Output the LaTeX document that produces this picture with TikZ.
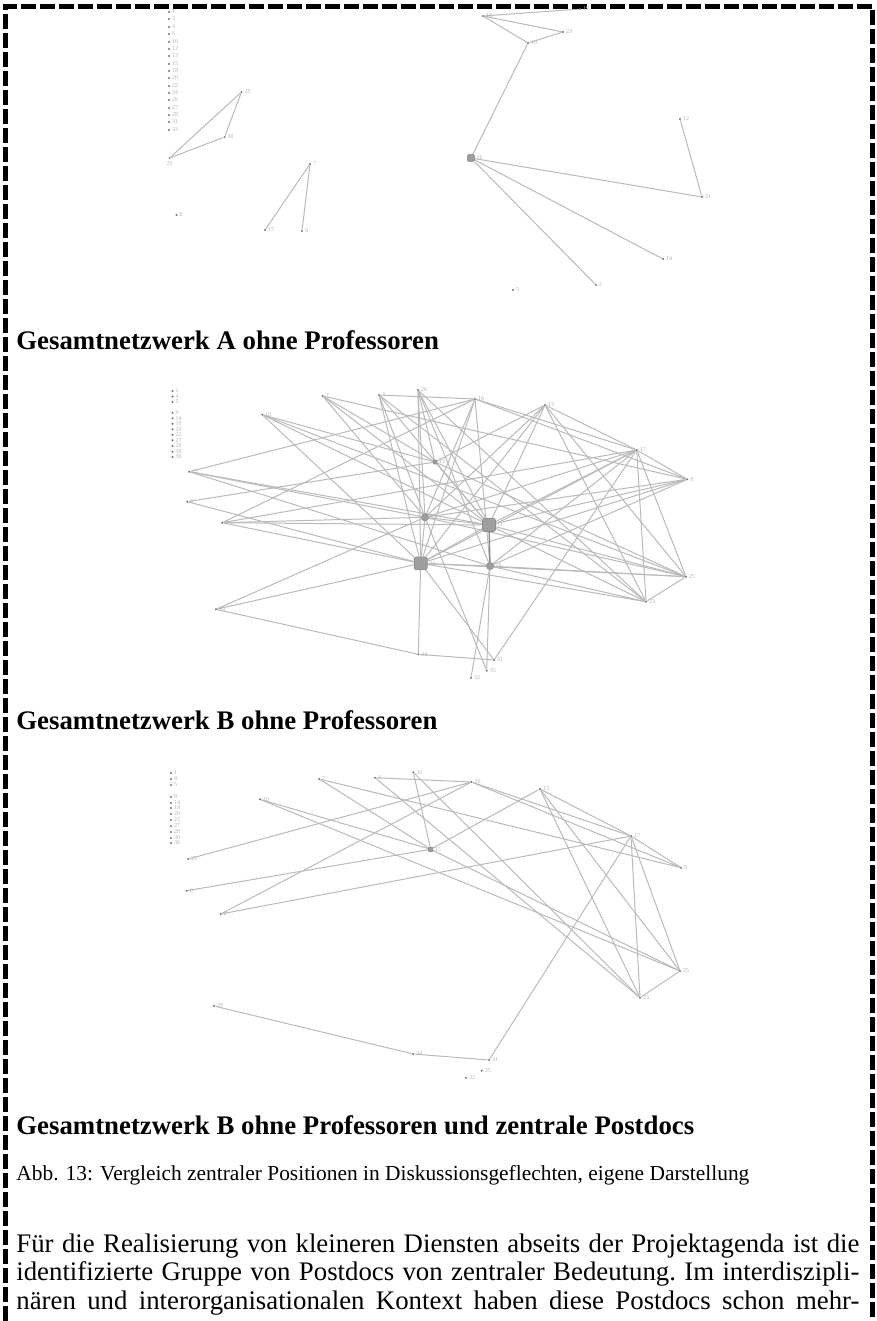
\documentclass[tikz,border=0pt]{standalone}
\usepackage{fontspec}
\setmainfont{Liberation Serif}
\usetikzlibrary{positioning,backgrounds}

\begin{document}
\begin{tikzpicture}[x=0.5pt,y=-0.5pt,
    pt/.style={circle,fill=black!55,inner sep=0pt,minimum size=1.1pt},
    lbl/.style={font=\fontsize{3}{3}\selectfont,text=black!30,inner sep=0.6pt},
    hub/.style={rectangle,rounded corners=1pt,fill=black!38,draw=black!45,line width=0.3pt,inner sep=0pt,minimum size=6.5pt},
    mid/.style={circle,fill=black!38,draw=black!45,line width=0.3pt,inner sep=0pt,minimum size=3.6pt},
    link/.style={draw=black!27,line width=0.5pt},
    heading/.style={anchor=base west,inner sep=0pt,font=\fontsize{13.4}{16}\selectfont\bfseries}]

    \useasboundingbox (0,0) rectangle (877,1321);

    % Frame
    \draw[line width=2.4pt,dash pattern=on 7.5pt off 2pt]
    (5.5,1321) -- (5.5,6.5) -- (872.5,6.5) -- (872.5,1321);

    % Network A
    \foreach \y/\t [count=\i] in {12/1,19/3,27/4,34/6,42/10,49/12,56/13,64/15,71/18,78/20,86/22,93/24,100/26,108/27,115/28,122/31,130/33}
        \node [pt,label={[lbl]right:\t}] at (169,\y) (la\i) {};
    \node [pt,label={[lbl]right:16}] at (483,16) (a1) {};
    \node [pt,label={[lbl]right:19}] at (580,9) (a2) {};
    \node [pt,label={[lbl]right:23}] at (563,32) (a3) {};
    \node [pt,label={[lbl]right:10}] at (528,43) (a4) {};
    \node [hub,minimum size=3.6pt,label={[lbl]right:11}] at (471,158) (a5) {};
    \node [pt,label={[lbl]right:12}] at (680,119) (a6) {};
    \node [pt,label={[lbl]right:21}] at (702,197) (a7) {};
    \node [pt,label={[lbl]right:14}] at (663,259) (a8) {};
    \node [pt,label={[lbl]right:2}] at (596,285) (a9) {};
    \node [pt,label={[lbl]right:5}] at (513,290) (a10) {};
    \node [pt,label={[lbl]right:25}] at (241.5,92) (a11) {};
    \node [pt,label={[lbl]right:30}] at (224.6,137) (a12) {};
    \node [pt,label={[lbl]below:29}] at (169.6,158) (a13) {};
    \node [pt,label={[lbl]right:7}] at (310,164) (a14) {};
    \node [pt,label={[lbl]right:17}] at (265,230) (a15) {};
    \node [pt,label={[lbl]right:9}] at (302,231) (a16) {};
    \node [pt,label={[lbl]right:8}] at (176.5,215) (a17) {};

    \begin{scope}[on background layer]
    \path[link]
    (a1) edge (a2) (a1) edge (a3) (a1) edge (a4) (a4) edge (a3)
    (a4) edge (a5) (a5) edge (a7) (a6) edge (a7) (a5) edge (a8)
    (a5) edge (a9) (a11) edge (a13) (a11) edge (a12) (a12) edge (a13)
    (a14) edge (a15) (a14) edge (a16);
    \end{scope}

    \node [heading] at (16,349) (capA) {Gesamtnetzwerk A ohne Professoren};

    % Network B
    \foreach \y/\t [count=\i] in {391/1,396.5/4,402/5,412.7/9,418.3/14,423.7/19,429.3/20,435/22,440.3/27,446/28,451.7/30,457/36}
        \node [pt,label={[lbl]right:\t}] at (172.5,\y) (lb\i) {};
    \node [pt,label={[lbl]right:7}] at (322.7,396) (b1) {};
    \node [pt,label={[lbl]right:3}] at (379,395) (b2) {};
    \node [pt,label={[lbl]right:26}] at (418,390) (b3) {};
    \node [pt,label={[lbl]right:16}] at (475,399) (b4) {};
    \node [pt,label={[lbl]right:13}] at (545,405) (b5) {};
    \node [pt,label={[lbl]right:10}] at (262.3,414.7) (b6) {};
    \node [pt,label={[lbl]right:17}] at (636.7,450) (b7) {};
    \node [mid,minimum size=2.2pt,label={[lbl]right:15}] at (435,462) (b8) {};
    \node [pt,label={[lbl]right:21}] at (189.3,471.7) (b9) {};
    \node [pt,label={[lbl]right:8}] at (687.3,479.3) (b10) {};
    \node [pt,label={[lbl]right:6}] at (187.3,501.7) (b11) {};
    \node [mid,label={[lbl]right:12}] at (425,517.3) (b12) {};
    \node [hub,label={[lbl]right:11}] at (489,525) (b13) {};
    \node [pt,label={[lbl]right:2}] at (222.3,522.7) (b14) {};
    \node [hub,label={[lbl]right:24}] at (420.7,563.3) (b15) {};
    \node [mid,label={[lbl]right:18}] at (490,566) (b16) {};
    \node [pt,label={[lbl]right:25}] at (686,576.7) (b17) {};
    \node [pt,label={[lbl]right:23}] at (646,601.7) (b18) {};
    \node [pt,label={[lbl]right:29}] at (216,609.3) (b19) {};
    \node [pt,label={[lbl]right:34}] at (418.3,654.3) (b20) {};
    \node [pt,label={[lbl]right:31}] at (494,660) (b21) {};
    \node [pt,label={[lbl]right:35}] at (486.7,670.7) (b22) {};
    \node [pt,label={[lbl]right:32}] at (471,677.7) (b23) {};

    \begin{scope}[on background layer]
    \path[link]
    (b9) edge (b4) (b14) edge (b4) (b14) edge (b7) (b11) edge (b8)
    (b6) edge (b8) (b6) edge (b17) (b8) edge (b17) (b1) edge (b10)
    (b1) edge (b8) (b2) edge (b4) (b2) edge (b18) (b3) edge (b8)
    (b3) edge (b18) (b4) edge (b7) (b4) edge (b10) (b5) edge (b8)
    (b5) edge (b7) (b5) edge (b17) (b5) edge (b18) (b7) edge (b10)
    (b7) edge (b17) (b7) edge (b18) (b17) edge (b18) (b7) edge (b21)
    (b19) edge (b20) (b20) edge (b21)
    (b12) edge (b9) (b12) edge (b14) (b12) edge (b1) (b12) edge (b2)
    (b12) edge (b3) (b12) edge (b4) (b12) edge (b5) (b12) edge (b7)
    (b12) edge (b10) (b12) edge (b17) (b12) edge (b19) (b12) edge (b22)
    (b12) edge (b13) (b12) edge (b15)
    (b13) edge (b9) (b13) edge (b14) (b13) edge (b6) (b13) edge (b1)
    (b13) edge (b2) (b13) edge (b3) (b13) edge (b8) (b13) edge (b5)
    (b13) edge (b7) (b13) edge (b10) (b13) edge (b17) (b13) edge (b18)
    (b13) edge (b15)
    (b15) edge (b11) (b15) edge (b14) (b15) edge (b19) (b15) edge (b6)
    (b15) edge (b2) (b15) edge (b3) (b15) edge (b4) (b15) edge (b5)
    (b15) edge (b7) (b15) edge (b10) (b15) edge (b17) (b15) edge (b18)
    (b15) edge (b20) (b15) edge (b21) (b15) edge (b16)
    (b16) edge (b22) (b16) edge (b23) (b16) edge (b3) (b16) edge (b4)
    (b16) edge (b17) (b16) edge (b7) (b16) edge (b10) (b16) edge (b18)
    (b16) edge (b9);
    \draw[draw=black!45,line width=0.7pt] (b13) -- (b16);
    \end{scope}

    \node [heading] at (16,729) (capB) {Gesamtnetzwerk B ohne Professoren};

    % Network B without central postdocs
    \foreach \y/\t [count=\i] in {773/1,779/4,785/5,797/9,803/14,808/19,814/20,820/22,826/27,832/28,838/30,843/36}
        \node [pt,label={[lbl]right:\t}] at (171,\y) (lc\i) {};
    \node [pt,label={[lbl]right:7}] at (319.3,779) (c1) {};
    \node [pt,label={[lbl]right:3}] at (375,777.7) (c2) {};
    \node [pt,label={[lbl]right:26}] at (413.3,772.3) (c3) {};
    \node [pt,label={[lbl]right:16}] at (471.5,782) (c4) {};
    \node [pt,label={[lbl]right:13}] at (540,789) (c5) {};
    \node [pt,label={[lbl]right:10}] at (260,799.3) (c6) {};
    \node [pt,label={[lbl]right:17}] at (631,836) (c7) {};
    \node [hub,minimum size=2.2pt,rounded corners=0.4pt,label={[lbl]right:15}] at (430.7,849.3) (c8) {};
    \node [pt,label={[lbl]right:21}] at (188.3,859) (c9) {};
    \node [pt,label={[lbl]right:8}] at (681,867.7) (c10) {};
    \node [pt,label={[lbl]right:6}] at (186.7,890.7) (c11) {};
    \node [pt,label={[lbl]right:2}] at (220.7,914) (c14) {};
    \node [pt,label={[lbl]right:25}] at (680,971) (c17) {};
    \node [pt,label={[lbl]right:23}] at (640,997.7) (c18) {};
    \node [pt,label={[lbl]right:29}] at (214,1006) (c19) {};
    \node [pt,label={[lbl]right:34}] at (413.3,1054) (c20) {};
    \node [pt,label={[lbl]right:31}] at (489,1060) (c21) {};
    \node [pt,label={[lbl]right:35}] at (481.7,1070.7) (c22) {};
    \node [pt,label={[lbl]right:32}] at (466,1077.7) (c23) {};

    \begin{scope}[on background layer]
    \path[link]
    (c9) edge (c4) (c14) edge (c4) (c14) edge (c7) (c11) edge (c8)
    (c6) edge (c8) (c6) edge (c17) (c8) edge (c17) (c1) edge (c10)
    (c1) edge (c8) (c2) edge (c4) (c2) edge (c18) (c3) edge (c8)
    (c3) edge (c18) (c4) edge (c7) (c4) edge (c10) (c5) edge (c8)
    (c5) edge (c7) (c5) edge (c17) (c5) edge (c18) (c7) edge (c10)
    (c7) edge (c17) (c7) edge (c18) (c17) edge (c18) (c7) edge (c21)
    (c19) edge (c20) (c20) edge (c21);
    \end{scope}

    \node [heading] at (16,1134) (capC) {Gesamtnetzwerk B ohne Professoren und zentrale Postdocs};

    % Caption and text
    \node [anchor=base west,inner sep=0pt,font=\fontsize{10.7}{13}\selectfont] at (16,1180) (abb)
    {Abb. 13: Vergleich zentraler Positionen in Diskussionsgeflechten, eigene Darstellung};
    \node [anchor=base west,inner sep=0pt] at (16,1252) (body)
    {\parbox[t]{421.5pt}{\fontsize{13.4}{14.25}\selectfont\frenchspacing\parfillskip=0pt
    Für die Realisierung von kleineren Diensten abseits der Projektagenda ist die\linebreak
    identifizierte Gruppe von Postdocs von zentraler Bedeutung. Im interdiszipli-\linebreak
    nären und interorganisationalen Kontext haben diese Postdocs schon mehr-}};
\end{tikzpicture}
\end{document}
